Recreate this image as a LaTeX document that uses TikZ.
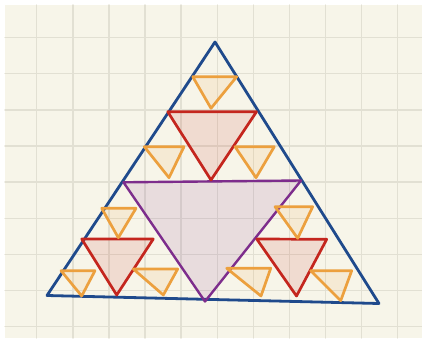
\documentclass[tikz,border=0pt]{standalone}
\usetikzlibrary{calc}
\definecolor{bg}{RGB}{247,245,233}
\definecolor{gridc}{RGB}{226,224,211}
\definecolor{lvlA}{RGB}{31,74,140}
\definecolor{lvlB}{RGB}{125,45,140}
\definecolor{lvlC}{RGB}{196,38,30}
\definecolor{lvlD}{RGB}{236,160,62}
\tikzset{
  every picture/.style={line width=1pt, line cap=round, line join=round},
  % Raster
  gridline/.style={gridc, line width=1.4pt},
  % Dreiecke je Stufe
  tri/.style={draw=#1, fill=#1, fill opacity=0.12, line width=2.7pt},
  outer/.style={draw=lvlA, line width=2.8pt},
}
\begin{document}
\begin{tikzpicture}[x=1pt, y=-1pt]
  \useasboundingbox (0,0) rectangle (422,339);
  \fill[bg] (5,5) rectangle (422,338);
  % Raster
  \foreach \k in {0,...,10}
    \draw[gridline] ({36.7+36.1*\k},5) -- ({36.7+36.1*\k},338);
  \foreach \k in {0,...,8}
    \draw[gridline] (5,{37.7+36.1*\k}) -- (422,{37.7+36.1*\k});
  % Stufe 0
  \draw[outer] (215,42) -- (379,303.5) -- (47,295.5) -- cycle;
  % Stufe 1
  \draw[tri=lvlB, line width=2.4pt] (123.5,182.3) -- (301,180.5) -- (205,301.5) -- cycle;
  % Stufe 2
  \foreach \ax/\ay/\bx/\by/\cx/\cy in {
      167.7/111.7/256.5/111.7/211/180,
      81.7/239/153.3/239/116.7/295,
      256.7/239/326.7/239.3/296.5/296}
    \draw[tri=lvlC] (\ax,\ay) -- (\bx,\by) -- (\cx,\cy) -- cycle;
  % Stufe 3
  \foreach \ax/\ay/\bx/\by/\cx/\cy in {
      192.7/76.7/236.7/76.7/211/108.3,
      144.3/146.7/184/146.7/169/177.7,
      235/146.7/274.3/146.7/256/177.7,
      101.7/208.3/136/208.3/118.3/237.7,
      275/206.7/312.7/206.7/297.7/238.3,
      61/270.7/95/270.7/81.7/296,
      133.3/269/177.7/269/163.3/295,
      226.7/268.3/270.7/268.3/261/296,
      310.7/270.7/351.7/270.7/340.7/300.7}
    \draw[tri=lvlD] (\ax,\ay) -- (\bx,\by) -- (\cx,\cy) -- cycle;
\end{tikzpicture}
\end{document}
